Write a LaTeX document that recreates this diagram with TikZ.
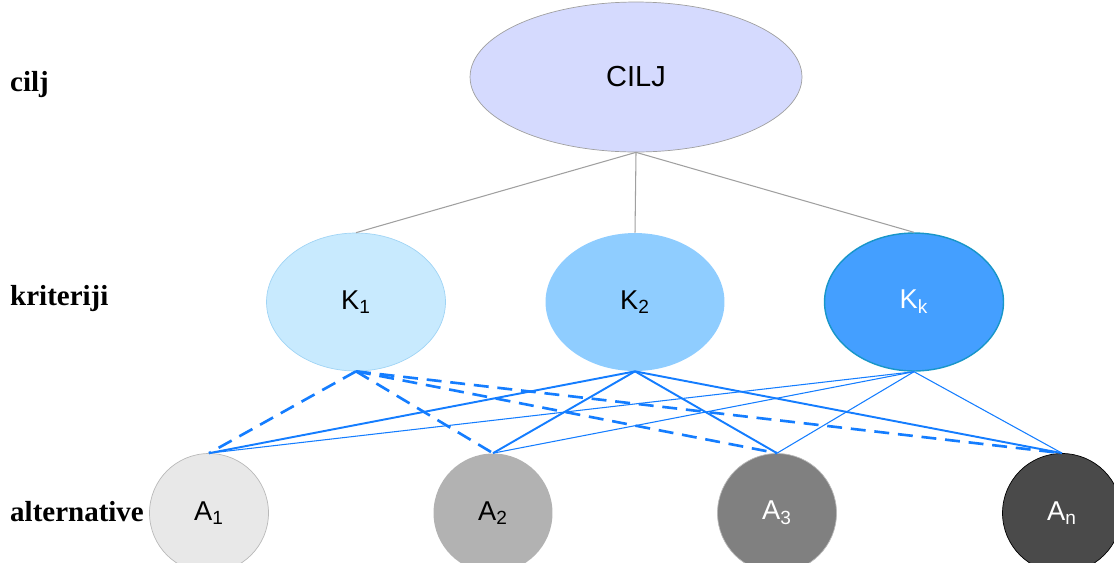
\documentclass[tikz,border=0pt]{standalone}
\usepackage{fontspec}
\setmainfont{Liberation Sans}
\newfontfamily\lblfont{Liberation Serif}
\usetikzlibrary{shapes.geometric}

\definecolor{ciljfill}{RGB}{213,218,254}
\definecolor{kafill}{RGB}{200,234,254}
\definecolor{kadraw}{RGB}{160,212,245}
\definecolor{kbfill}{RGB}{143,205,255}
\definecolor{kcfill}{RGB}{68,159,255}
\definecolor{kcdraw}{RGB}{24,150,200}
\definecolor{linkblue}{RGB}{20,125,255}
\definecolor{linkgray}{RGB}{160,160,160}

\tikzset{
  goal/.style={ellipse,draw=linkgray,fill=ciljfill,minimum width=6.64cm,minimum height=3cm,
    font=\fontsize{16.5}{18}\selectfont},
  crit/.style={ellipse,minimum width=3.58cm,minimum height=2.76cm,font=\fontsize{15.5}{17}\selectfont},
  alt/.style={ellipse,minimum width=2.38cm,minimum height=2.38cm,font=\fontsize{15.5}{17}\selectfont},
  level/.style={anchor=west,font=\lblfont\bfseries\fontsize{16.5}{18}\selectfont},
  tie/.style={draw=linkgray,line width=0.6pt},
  linka/.style={draw=linkblue,line width=1.5pt,dash pattern=on 8.5pt off 5pt},
  linkb/.style={draw=linkblue,line width=1.1pt},
  linkc/.style={draw=linkblue,line width=0.6pt}
}

\begin{document}
\begin{tikzpicture}[x=0.02cm,y=-0.02cm]
  \useasboundingbox (0,0) rectangle (1114,562);

  \node[level] (Lc) at (4,85) {cilj};
  \node[level] (Lk) at (4,299) {kriteriji};
  \node[level] (La) at (4,512) {alternative};

  \node[goal] (C) at (636,77) {CILJ};

  \node[crit,draw=kadraw,fill=kafill] (K1) at (356,302) {K\textsubscript{1}};
  \node[crit,fill=kbfill] (K2) at (635,302) {K\textsubscript{2}};
  \node[crit,draw=kcdraw,line width=0.8pt,fill=kcfill,text=white] (K3) at (914,302) {K\textsubscript{k}};

  \node[alt,draw=gray!55,fill=gray!18] (A1) at (209,513) {A\textsubscript{1}};
  \node[alt,fill=gray!60] (A2) at (493,513) {A\textsubscript{2}};
  \node[alt,draw=gray!55,fill=gray!100,text=white] (A3) at (777,513) {A\textsubscript{3}};
  \node[alt,draw=black,fill=black!71,text=white] (A4) at (1062,513) {A\textsubscript{n}};

  \foreach \k in {K1,K2,K3}
    \draw[tie] (C.south) -- (\k.north);

  \foreach \a in {A1,A2,A3,A4} {
    \draw[linkc] (K3.south) -- (\a.north);
    \draw[linkb] (K2.south) -- (\a.north);
    \draw[linka] (K1.south) -- (\a.north);
  }
\end{tikzpicture}
\end{document}
